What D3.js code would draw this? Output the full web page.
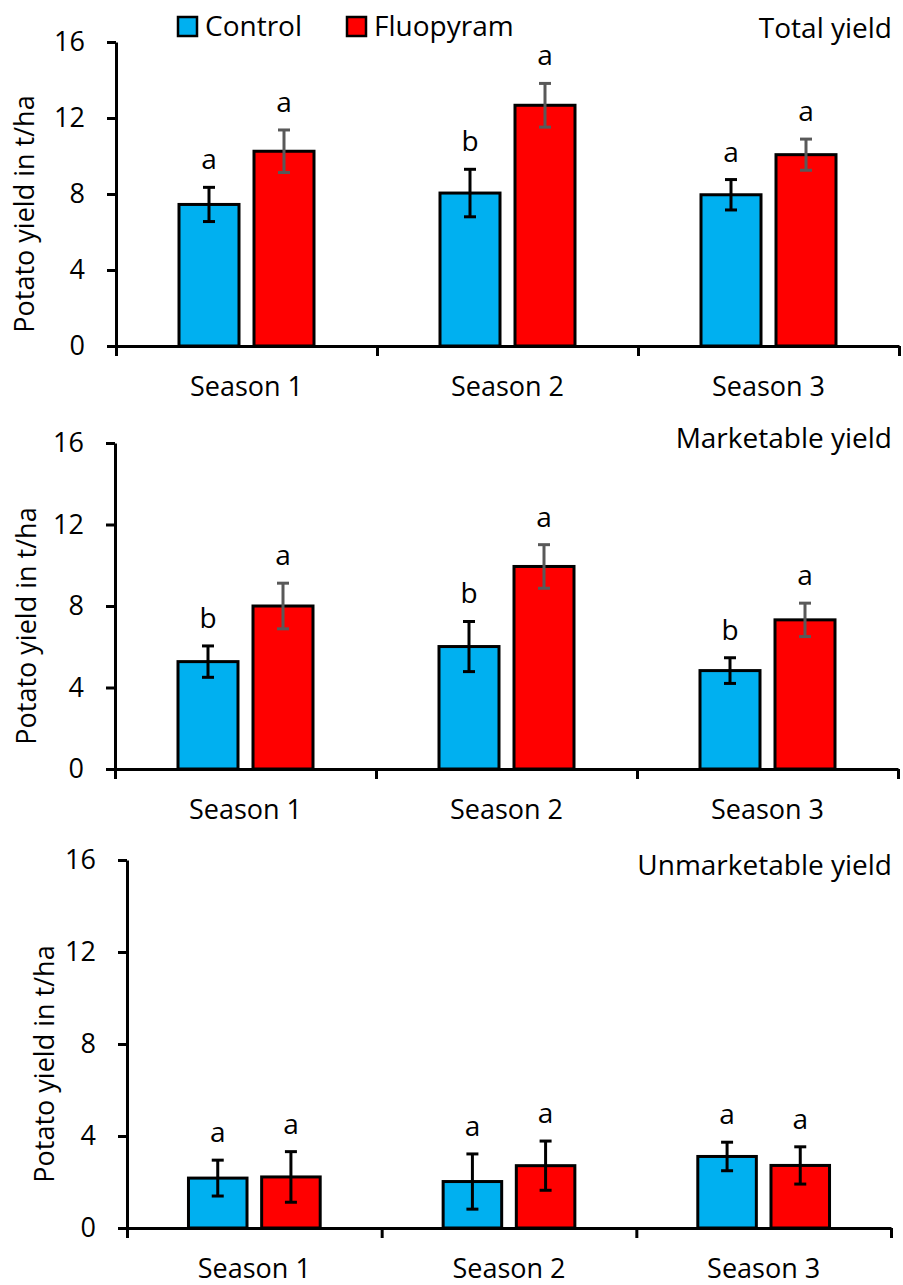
<!DOCTYPE html>
<html>
<head>
<meta charset="utf-8">
<script src="https://cdn.jsdelivr.net/npm/d3@7"></script>
<style>
  body { margin: 0; background: #fff; }
  svg text { font-family: "Open Sans", sans-serif; fill: #000; }
</style>
</head>
<body>
<div class="chart"></div>
<script>
// categories and series
const seasons = ["Season 1", "Season 2", "Season 3"];
const treatments = ["Control", "Fluopyram"];
const yTicks = [0, 4, 8, 12, 16];

// total yield (t/ha)
const totalControl = [7.45, 8.05, 7.96];
const totalControlErr = [0.9, 1.25, 0.8];
const totalFluopyram = [10.25, 12.67, 10.07];
const totalFluopyramErr = [1.12, 1.15, 0.82];
const totalControlLetters = ["a", "b", "a"];
const totalFluopyramLetters = ["a", "a", "a"];

// marketable yield
const marketControl = [5.27, 6.01, 4.83];
const marketControlErr = [0.77, 1.23, 0.63];
const marketFluopyram = [8.0, 9.94, 7.32];
const marketFluopyramErr = [1.12, 1.07, 0.82];
const marketControlLetters = ["b", "b", "b"];
const marketFluopyramLetters = ["a", "a", "a"];

// unmarketable yield
const unmarketControl = [2.17, 2.02, 3.11];
const unmarketControlErr = [0.78, 1.2, 0.62];
const unmarketFluopyram = [2.22, 2.71, 2.72];
const unmarketFluopyramErr = [1.1, 1.07, 0.81];
const unmarketControlLetters = ["a", "a", "a"];
const unmarketFluopyramLetters = ["a", "a", "a"];

const fillColors = {Control: "#00b0f0", Fluopyram: "#ff0000"};

const width = 903;
const height = 1285;
const svg = d3.select('.chart')
    .append('svg')
    .attr('width', width)
    .attr('height', height);

// panel layout
const panels = [
  {title: "Total yield", left: 116, right: 899, top: 42, bottom: 346, labelX: 23, titleY: 38,
   ctrl: totalControl, ctrlErr: totalControlErr, ctrlLet: totalControlLetters,
   fluo: totalFluopyram, fluoErr: totalFluopyramErr, fluoLet: totalFluopyramLetters,
   errColor: {Control: "#000", Fluopyram: "#595959"}},
  {title: "Marketable yield", left: 115, right: 898, top: 443, bottom: 769, labelX: 25, titleY: 448,
   ctrl: marketControl, ctrlErr: marketControlErr, ctrlLet: marketControlLetters,
   fluo: marketFluopyram, fluoErr: marketFluopyramErr, fluoLet: marketFluopyramLetters,
   errColor: {Control: "#000", Fluopyram: "#595959"}},
  {title: "Unmarketable yield", left: 127, right: 891, top: 860, bottom: 1228, labelX: 43, titleY: 875,
   ctrl: unmarketControl, ctrlErr: unmarketControlErr, ctrlLet: unmarketControlLetters,
   fluo: unmarketFluopyram, fluoErr: unmarketFluopyramErr, fluoLet: unmarketFluopyramLetters,
   errColor: {Control: "#000", Fluopyram: "#000"}}
];

panels.forEach(p => {
  const g = svg.append('g');

  const x = d3.scaleBand()
      .domain(seasons)
      .range([p.left, p.right])
      .padding(0);
  const xSub = d3.scaleBand()
      .domain(treatments)
      .range([0, x.bandwidth()])
      .paddingInner(0.2)
      .paddingOuter(0.84);
  const y = d3.scaleLinear()
      .domain([0, 16])
      .range([p.bottom, p.top]);

  const rows = [];
  seasons.forEach((s, i) => {
    rows.push({season: s, t: "Control", v: p.ctrl[i], e: p.ctrlErr[i], l: p.ctrlLet[i]});
    rows.push({season: s, t: "Fluopyram", v: p.fluo[i], e: p.fluoErr[i], l: p.fluoLet[i]});
  });

  // bars
  g.selectAll('.bar')
      .data(rows)
      .enter().append('rect')
      .attr('class', 'bar')
      .attr('x', d => x(d.season) + xSub(d.t))
      .attr('y', d => y(d.v))
      .attr('width', xSub.bandwidth())
      .attr('height', d => y(0) - y(d.v))
      .attr('fill', d => fillColors[d.t])
      .attr('stroke', '#000')
      .attr('stroke-width', 3);

  // error bars
  const err = g.selectAll('.err')
      .data(rows)
      .enter().append('g')
      .attr('class', 'err')
      .attr('stroke', d => p.errColor[d.t])
      .attr('stroke-width', 3);
  const cx = d => x(d.season) + xSub(d.t) + xSub.bandwidth() / 2;
  err.append('line')
      .attr('x1', cx).attr('x2', cx)
      .attr('y1', d => y(d.v + d.e))
      .attr('y2', d => y(d.v - d.e));
  err.append('line')
      .attr('x1', d => cx(d) - 6).attr('x2', d => cx(d) + 6)
      .attr('y1', d => y(d.v + d.e)).attr('y2', d => y(d.v + d.e));
  err.append('line')
      .attr('x1', d => cx(d) - 6).attr('x2', d => cx(d) + 6)
      .attr('y1', d => y(d.v - d.e)).attr('y2', d => y(d.v - d.e));

  // significance letters
  g.selectAll('.letter')
      .data(rows)
      .enter().append('text')
      .attr('class', 'letter')
      .attr('x', cx)
      .attr('y', d => y(d.v + d.e) - 18)
      .attr('text-anchor', 'middle')
      .attr('font-size', '28px')
      .text(d => d.l);

  // y axis
  const yAxis = g.append('g')
      .attr('transform', `translate(${p.left},0)`)
      .call(d3.axisLeft(y).tickValues(yTicks).tickSize(9).tickSizeOuter(0).tickPadding(22));
  yAxis.select('.domain').attr('stroke', '#000').attr('stroke-width', 3);
  yAxis.selectAll('.tick line').attr('stroke', '#000').attr('stroke-width', 3);
  yAxis.selectAll('.tick text')
      .attr('font-size', '27px')
      .attr('font-family', '"Open Sans", sans-serif')
      .attr('fill', '#000');

  // x axis with ticks at category boundaries
  const xb = d3.scaleLinear().domain([0, seasons.length]).range([p.left, p.right]);
  const xAxis = g.append('g')
      .attr('transform', `translate(0,${p.bottom})`)
      .call(d3.axisBottom(xb).tickValues(d3.range(seasons.length + 1)).tickFormat('').tickSize(10).tickSizeOuter(0));
  xAxis.select('.domain').attr('stroke', '#000').attr('stroke-width', 3);
  xAxis.selectAll('.tick line').attr('stroke', '#000').attr('stroke-width', 3);

  g.selectAll('.season')
      .data(seasons)
      .enter().append('text')
      .attr('class', 'season')
      .attr('x', d => x(d) + x.bandwidth() / 2)
      .attr('y', p.bottom + 50)
      .attr('text-anchor', 'middle')
      .attr('font-size', '27px')
      .text(d => d);

  // y label
  g.append('text')
      .attr('transform', `translate(${p.labelX},${(p.top + p.bottom) / 2 + 20}) rotate(-90)`)
      .attr('text-anchor', 'middle')
      .attr('dominant-baseline', 'central')
      .attr('font-size', '27px')
      .text('Potato yield in t/ha');

  // panel title
  g.append('text')
      .attr('x', 892)
      .attr('y', p.titleY)
      .attr('text-anchor', 'end')
      .attr('font-size', '28px')
      .text(p.title);
});

// legend
const legendX = [178, 347];
const legend = svg.append('g')
    .selectAll('.legend')
    .data(treatments)
    .enter().append('g')
    .attr('class', 'legend')
    .attr('transform', (d, i) => `translate(${legendX[i]},17)`);
legend.append('rect')
    .attr('width', 19)
    .attr('height', 19)
    .attr('fill', d => fillColors[d])
    .attr('stroke', '#000')
    .attr('stroke-width', 2.5);
legend.append('text')
    .attr('x', 27)
    .attr('y', 19)
    .attr('font-size', '28px')
    .text(d => d);
</script>
</body>
</html>
